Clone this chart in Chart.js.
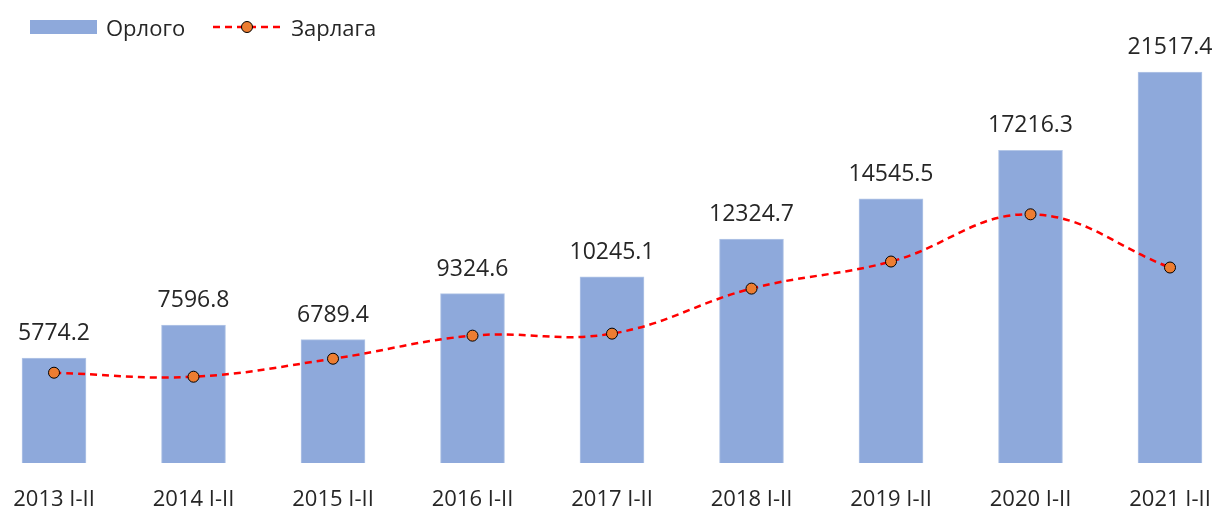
<!DOCTYPE html>
<html>
<head>
<meta charset="utf-8">
<script src="https://cdn.jsdelivr.net/npm/chart.js@4"></script>
<style>
  html, body { margin: 0; padding: 0; background: #fff; overflow: hidden; }
  #wrap { position: relative; width: 1216px; height: 506px; overflow: hidden; }
  #legend { position: absolute; left: 30px; top: 12px; display: flex; align-items: center;
            font-family: 'Open Sans', sans-serif; font-size: 22px; color: #262626; }
  .sw { display: inline-block; width: 67px; height: 14px; background: #8EA9DB; margin-right: 9px; }
  .item { display: flex; align-items: center; margin-right: 28px; }
  svg { margin-right: 6px; }
</style>
</head>
<body>
<div id="wrap">
  <canvas id="chart" width="1216" height="529"></canvas>
  <div id="legend">
    <span class="item"><span class="sw"></span>Орлого</span>
    <span class="item"><svg width="72" height="14"><line x1="0" y1="7" x2="72" y2="7" stroke="#FF0000" stroke-width="2.5" stroke-dasharray="7,5"/><circle cx="34" cy="7" r="5.5" fill="#ED7D31" stroke="#000" stroke-width="1"/></svg>Зарлага</span>
  </div>
</div>
<script>
const categories = ['2013 I-II', '2014 I-II', '2015 I-II', '2016 I-II', '2017 I-II', '2018 I-II', '2019 I-II', '2020 I-II', '2021 I-II'];
const income = [5774.2, 7596.8, 6789.4, 9324.6, 10245.1, 12324.7, 14545.5, 17216.3, 21517.4];
const expense = [4970, 4750, 5740, 7010, 7120, 9600, 11090, 13690, 10760];

// value labels above the bars (bar dataset is index 1)
const barLabels = {
    id: 'barLabels',
    afterDatasetsDraw(chart) {
        const ctx = chart.ctx;
        const meta = chart.getDatasetMeta(1);
        ctx.save();
        ctx.font = '23px "Open Sans"';
        ctx.fillStyle = '#262626';
        ctx.textAlign = 'center';
        ctx.textBaseline = 'alphabetic';
        meta.data.forEach((bar, i) => {
            ctx.fillText(income[i].toFixed(1), bar.x, bar.y - 18);
        });
        ctx.restore();
    }
};

new Chart(document.getElementById('chart'), {
    data: {
        labels: categories,
        datasets: [
            {
                type: 'line', label: 'Зарлага', data: expense, order: 0,
                borderColor: '#FF0000', borderWidth: 2.5, borderDash: [7, 5],
                tension: 0.4, pointRadius: 5.5, pointBackgroundColor: '#ED7D31',
                pointBorderColor: '#000', pointBorderWidth: 1, clip: false
            },
            {
                type: 'bar', label: 'Орлого', data: income, order: 1,
                backgroundColor: '#8EA9DB', borderColor: '#B4C7E7', borderWidth: 1,
                barThickness: 64, clip: false
            }
        ]
    },
    options: {
        responsive: false,
        animation: false,
        layout: { padding: { left: 54, right: 46, top: 27, bottom: 0 } },
        plugins: { legend: { display: false }, tooltip: { enabled: false } },
        scales: {
            x: {
                offset: false,
                grid: { display: false },
                border: { display: false },
                ticks: { color: '#262626', padding: 18, maxRotation: 0, autoSkip: false,
                         font: { family: 'Open Sans', size: 22, lineHeight: 1 } },
                afterFit(scale) { scale.paddingLeft = 0; scale.paddingRight = 0; }
            },
            y: { display: false, min: 0, max: 24000 }
        }
    },
    plugins: [barLabels]
});
</script>
</body>
</html>
